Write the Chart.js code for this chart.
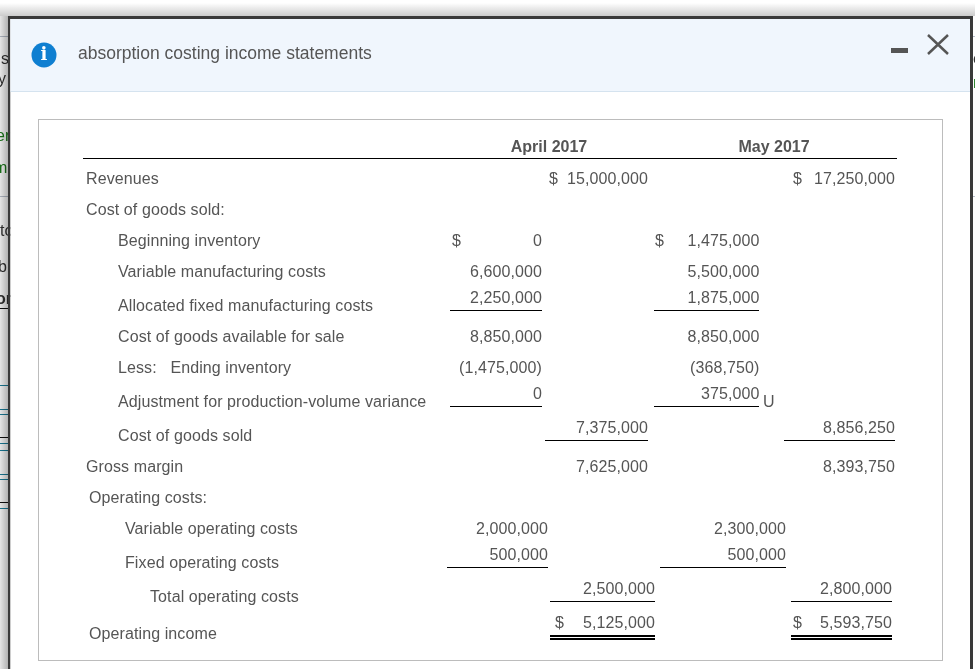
<!DOCTYPE html>
<html>
<head>
<meta charset="utf-8">
<style>
  html, body { margin:0; padding:0; background:#fff; overflow:hidden; }
  #page { position:relative; width:975px; height:669px; overflow:hidden; }
  canvas { position:absolute; left:0; top:0; }
</style>
<script src="https://cdn.jsdelivr.net/npm/chart.js@4"></script>
</head>
<body>
<div id="page"><canvas id="statement" width="975" height="669"></canvas></div>
<script>
const TITLE = 'absorption costing income statements';
const MONTHS = ['April 2017', 'May 2017'];

// row captions and where they sit
const rowLabels = ['Revenues', 'Cost of goods sold:', 'Beginning inventory', 'Variable manufacturing costs',
  'Allocated fixed manufacturing costs', 'Cost of goods available for sale', 'Less:   Ending inventory',
  'Adjustment for production-volume variance', 'Cost of goods sold', 'Gross margin', 'Operating costs:',
  'Variable operating costs', 'Fixed operating costs', 'Total operating costs', 'Operating income'];
const labelX = [86, 86, 118, 118, 118, 118, 118, 118, 118, 86, 89, 125, 125, 150, 89];
const labelY = [178, 209, 240, 271, 305, 336, 367, 401, 435, 466, 497, 528, 562, 596, 633];

// inner columns (detail), top block
const aprilDetail = ['0', '6,600,000', '2,250,000', '8,850,000', '(1,475,000)', '0'];
const mayDetail = ['1,475,000', '5,500,000', '1,875,000', '8,850,000', '(368,750)', '375,000'];
const detailY = [240, 271, 297, 336, 367, 393];

// inner columns, operating costs block
const aprilOpCosts = ['2,000,000', '500,000'];
const mayOpCosts = ['2,300,000', '500,000'];
const opCostY = [528, 554];

// outer columns (totals)
const aprilTotals = ['15,000,000', '7,375,000', '7,625,000'];
const mayTotals = ['17,250,000', '8,856,250', '8,393,750'];
const totalY = [178, 427, 466];
const aprilOpTotals = ['2,500,000', '5,125,000'];
const mayOpTotals = ['2,800,000', '5,593,750'];
const opTotalY = [588, 622];

// underlines: [x1, x2, y]
const ruleSegments = [
  [83, 897, 158.5],
  [450, 542, 310.5], [654, 759, 310.5],
  [450, 542, 406.5], [654, 759, 406.5],
  [545, 648, 440.5], [784, 895, 440.5],
  [447, 548, 567.5], [660, 786, 567.5],
  [550, 655, 601.5], [791, 892, 601.5],
];
const doubleRules = [[550, 655], [791, 892]];

// bits of the page behind the dialog that show at its edges
const edgeLinesGray = [36, 196];
const edgeLinesTeal = [385, 409, 414, 443, 450, 474, 479, 508];
const edgeLinesBlack = [308, 437, 502];

const TEXT = '#555555';
const FONT = '"Liberation Sans", Arial, sans-serif';

function lineDataset(x1, x2, y, width) {
  return {
    type: 'line',
    data: [{ x: x1, y: y }, { x: x2, y: y }],
    borderColor: '#000',
    borderWidth: width,
    pointRadius: 0,
    animation: false,
  };
}

const datasets = ruleSegments.map(r => lineDataset(r[0], r[1], r[2], 1));
doubleRules.forEach(r => {
  datasets.push(lineDataset(r[0], r[1], 636, 2));
  datasets.push(lineDataset(r[0], r[1], 639, 2));
});

// page furniture behind the chart
const chrome = {
  id: 'chrome',
  beforeDraw(chart) {
    const c = chart.ctx;
    c.save();
    c.fillStyle = '#fff';
    c.fillRect(0, 0, 975, 669);

    edgeLinesGray.forEach(y => {
      c.fillStyle = '#b9c0cc';
      c.fillRect(0, y, 8, 1);
      c.fillRect(973, y, 2, 1);
    });
    edgeLinesTeal.forEach(y => { c.fillStyle = '#1b7f9c'; c.fillRect(0, y, 8, 1); });
    edgeLinesBlack.forEach(y => { c.fillStyle = '#111'; c.fillRect(0, y, 8, 1); });

    c.font = '16px ' + FONT;
    c.textBaseline = 'middle';
    c.fillStyle = '#333';
    c.fillText('s', 1, 60);
    c.fillText('y', -2, 80);
    c.fillText('to', 0, 232);
    c.fillText('b', -2, 268);
    c.fillText('e', 973, 60);
    c.fillStyle = '#1a7a1a';
    c.fillText('er', -4, 137);
    c.fillText('m', -6, 169);
    c.fillText('n', 973, 84);
    c.fillStyle = '#333';
    c.font = 'bold 16px ' + FONT;
    c.fillText('or', -4, 300);

    // dialog shadow
    const left = c.createLinearGradient(0, 0, 8, 0);
    left.addColorStop(0, 'rgba(0,0,0,0.1)');
    left.addColorStop(1, 'rgba(0,0,0,0.3)');
    c.fillStyle = left;
    c.fillRect(0, 16, 8, 653);
    const top = c.createLinearGradient(0, 3, 0, 16);
    top.addColorStop(0, 'rgba(0,0,0,0)');
    top.addColorStop(1, 'rgba(0,0,0,0.2)');
    c.fillStyle = top;
    c.fillRect(0, 3, 975, 13);

    // dialog frame and body
    c.fillStyle = '#3a3a3a';
    c.fillRect(8, 16, 965, 3);
    c.fillRect(8, 16, 2.5, 653);
    c.fillRect(970, 16, 3, 653);
    c.fillStyle = '#fff';
    c.fillRect(10.5, 19, 959.5, 650);
    c.fillStyle = '#f0f6fd';
    c.fillRect(10.5, 19, 959.5, 72);
    c.fillStyle = '#d5e3ef';
    c.fillRect(10.5, 91, 959.5, 1);
    c.strokeStyle = '#bcbcbc';
    c.lineWidth = 1;
    c.strokeRect(38.5, 119.5, 904, 541);
    c.restore();
  },
};

// all the text, placed through the chart's scales
const tableText = {
  id: 'tableText',
  afterDatasetsDraw(chart) {
    const c = chart.ctx, sx = chart.scales.x, sy = chart.scales.y;
    const put = (str, x, y, align, font, color, spacing) => {
      c.font = font || '16px ' + FONT;
      c.fillStyle = color || TEXT;
      c.textAlign = align || 'left';
      c.textBaseline = 'middle';
      c.letterSpacing = spacing || '0px';
      c.fillText(str, sx.getPixelForValue(x), sy.getPixelForValue(y + 2));
    };
    const num = (v, x, y) => put(v, x, y, 'right', null, null, '0.1px');
    c.save();
    rowLabels.forEach((l, i) => put(l, labelX[i], labelY[i], 'left', null, null, '0.1px'));
    const bold = 'bold 16px ' + FONT;
    put(MONTHS[0], 549, 146, 'center', bold);
    put(MONTHS[1], 774, 146, 'center', bold);
    aprilDetail.forEach((v, i) => num(v, 542, detailY[i]));
    mayDetail.forEach((v, i) => num(v, 759.5, detailY[i]));
    aprilOpCosts.forEach((v, i) => num(v, 548, opCostY[i]));
    mayOpCosts.forEach((v, i) => num(v, 786, opCostY[i]));
    aprilTotals.forEach((v, i) => num(v, 648, totalY[i]));
    mayTotals.forEach((v, i) => num(v, 895, totalY[i]));
    aprilOpTotals.forEach((v, i) => num(v, 655, opTotalY[i]));
    mayOpTotals.forEach((v, i) => num(v, 892, opTotalY[i]));
    put('$', 549, 178); put('$', 793, 178);
    put('$', 452, 240); put('$', 655, 240);
    put('$', 555, 622); put('$', 793, 622);
    put('U', 763, 401);

    // header
    put(TITLE, 78, 52, 'left', '17.5px ' + FONT, '#555');
    c.fillStyle = '#0f7fd1';
    c.beginPath();
    c.arc(44, 55, 12.5, 0, Math.PI * 2);
    c.fill();
    put('i', 44, 53.5, 'center', 'bold 18px "DejaVu Serif", serif', '#fff');
    c.strokeStyle = '#555';
    c.lineWidth = 2.5;
    c.beginPath();
    c.moveTo(928, 35); c.lineTo(948, 54);
    c.moveTo(948, 35); c.lineTo(928, 54);
    c.stroke();
    c.fillStyle = '#555';
    c.fillRect(891, 48, 17, 5);
    c.restore();
  },
};

new Chart(document.getElementById('statement'), {
  type: 'scatter',
  data: { datasets: datasets },
  plugins: [chrome, tableText],
  options: {
    responsive: false,
    animation: false,
    layout: { padding: 0 },
    plugins: { legend: { display: false }, tooltip: { enabled: false } },
    scales: {
      x: { type: 'linear', display: false, min: 0, max: 975 },
      y: { type: 'linear', display: false, min: 0, max: 669, reverse: true },
    },
  },
});
</script>
</body>
</html>
